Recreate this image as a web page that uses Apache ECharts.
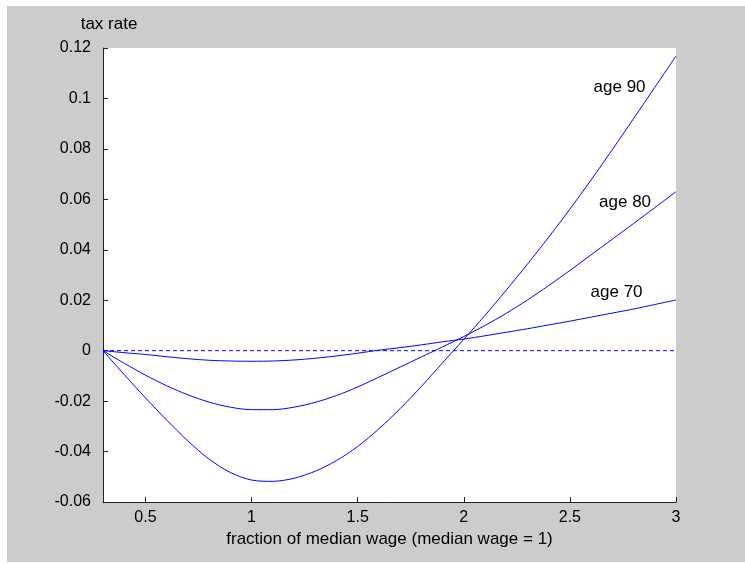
<!DOCTYPE html>
<html>
<head>
<meta charset="utf-8">
<script src="https://cdn.jsdelivr.net/npm/echarts@6/dist/echarts.min.js"></script>
<style>
  html, body { margin:0; padding:0; background:#ffffff; }
  #bg { position:absolute; left:7px; top:6px; width:738px; height:556px; background:#cccccc; }
  #chart { position:absolute; left:0; top:0; width:745px; height:564px; }
</style>
</head>
<body>
<div id="bg"></div>
<div id="chart"></div>
<script>
// x: fraction of median wage
const xs = [0.3,0.4,0.5,0.6,0.7,0.8,0.9,1.0,1.1,1.2,1.3,1.4,1.5,1.6,1.7,1.8,1.9,2.0,2.1,2.2,2.3,2.4,2.5,2.6,2.7,2.8,2.9,3.0];
// tax rate by age
const age70 = [0,-0.0008,-0.0015,-0.0024,-0.0032,-0.0038,-0.0041,-0.0042,-0.0041,-0.0037,-0.0030,-0.0021,-0.0010,0.0002,0.0012,0.0023,0.0035,0.0046,0.0059,0.0073,0.0087,0.0102,0.0117,0.0133,0.0149,0.0165,0.0183,0.0201];
const age80 = [0,-0.0050,-0.0097,-0.0139,-0.0175,-0.0204,-0.0224,-0.0234,-0.0234,-0.0224,-0.0205,-0.0178,-0.0144,-0.0105,-0.0065,-0.0025,0.0015,0.0056,0.0100,0.0148,0.0201,0.0258,0.0318,0.0380,0.0442,0.0504,0.0567,0.0630];
const age90 = [0,-0.0095,-0.0187,-0.0275,-0.0358,-0.0430,-0.0483,-0.0513,-0.0518,-0.0506,-0.0478,-0.0436,-0.0380,-0.0310,-0.0230,-0.0142,-0.0048,0.0045,0.0140,0.0240,0.0343,0.0450,0.0561,0.0677,0.0797,0.0920,0.1044,0.1168];
const seriesNames = ['age 70','age 80','age 90'];
// where each curve's label sits (data units)
const labelPos = [[2.72,0.0233],[2.76,0.059],[2.734,0.1043]];
const xTicks = [0.5,1,1.5,2,2.5,3];
const zeroLine = [[0.3,0],[3,0]];

const FONT = 'Liberation Sans, Arial, Helvetica, sans-serif';
const BLUE = '#0000ff';
const toPairs = arr => xs.map((x,i)=>[x,arr[i]]);
const allSeries = [age70, age80, age90];

const chart = echarts.init(document.getElementById('chart'), null, {renderer:'canvas'});
const series = allSeries.map((arr,i)=>({
  name: seriesNames[i],
  type: 'line',
  data: toPairs(arr),
  smooth: 0.3,
  symbol: 'none',
  lineStyle: {color: BLUE, width: 1},
  silent: true,
  markPoint: {
    symbol: 'circle', symbolSize: 0,
    label: {show: true, position: 'inside', formatter: seriesNames[i], color:'#000', fontSize: 17, fontFamily: FONT},
    data: [{coord: labelPos[i]}]
  }
}));
series.push({
  name: 'zero',
  type: 'line',
  data: zeroLine,
  symbol: 'none',
  lineStyle: {color: BLUE, width: 1, type: [4,3]},
  silent: true
});

chart.setOption({
  animation: false,
  backgroundColor: 'transparent',
  grid: {left: 103, right: 69, top: 48, bottom: 62, show: true, backgroundColor: '#ffffff', borderWidth: 0},
  xAxis: {
    type: 'value', min: 0.3, max: 3,
    name: 'fraction of median wage (median wage = 1)',
    nameLocation: 'middle', nameGap: 29,
    nameTextStyle: {color:'#000', fontSize: 17, fontFamily: FONT},
    axisLine: {show: true, onZero: false, lineStyle: {color:'#222', width: 1}},
    axisTick: {show: true, inside: true, length: 5, customValues: xTicks, lineStyle:{color:'#222'}},
    axisLabel: {color:'#000', fontSize: 16, fontFamily: FONT, margin: 8, customValues: xTicks},
    splitLine: {show: false}
  },
  yAxis: {
    type: 'value', min: -0.06, max: 0.12, interval: 0.02,
    name: 'tax rate', nameLocation: 'end', nameGap: 24,
    nameTextStyle: {color:'#000', fontSize: 17, fontFamily: FONT, align:'center', verticalAlign:'middle', padding:[0,0,0,12]},
    axisLine: {show: true, onZero: false, lineStyle: {color:'#222', width: 1}},
    axisTick: {show: true, inside: true, length: 5, lineStyle:{color:'#222'}},
    axisLabel: {color:'#000', fontSize: 16, fontFamily: FONT, margin: 12,
      formatter: v => String(Math.round(v*100)/100)},
    splitLine: {show: false}
  },
  series: series
});
</script>
</body>
</html>
